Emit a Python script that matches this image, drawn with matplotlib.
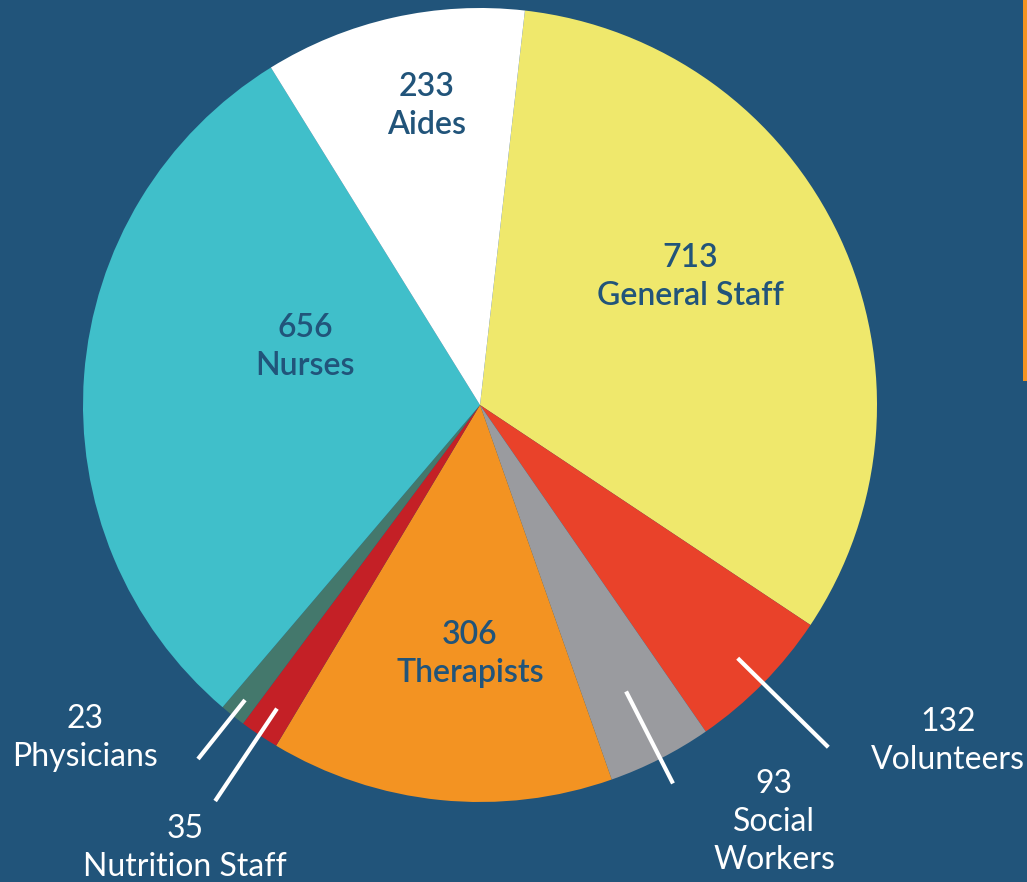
import numpy as np
import matplotlib.pyplot as plt
from matplotlib.patches import Rectangle

# staff counts, clockwise from the top
categories = ['General Staff', 'Volunteers', 'Social\nWorkers', 'Therapists',
              'Nutrition Staff', 'Physicians', 'Nurses', 'Aides']
counts = [713, 132, 93, 306, 35, 23, 656, 233]
colors = ['#efe86c', '#e9422a', '#9a9b9f', '#f39322',
          '#c42026', '#44786c', '#40bfca', '#ffffff']

bg = '#21547a'
W, H = 1027, 882
cx, cy, r = 480, H - 405, 397

plt.rcParams['font.family'] = ['Lato', 'DejaVu Sans']

fig = plt.figure(figsize=(W / 100, H / 100), dpi=100, facecolor=bg)
ax = fig.add_axes([0, 0, 1, 1])
ax.set_facecolor(bg)

wedges, _ = ax.pie(counts, colors=colors, startangle=83.5, counterclock=False,
                   center=(cx, cy), radius=r, frame=True,
                   wedgeprops=dict(linewidth=0))
ax.set_xlim(0, W)
ax.set_ylim(0, H)
ax.set_aspect('equal')
ax.axis('off')

# label placement (pixel coords from top-left), inside or outside
label_pos = {
    'General Staff': (690, 277, 'in'),
    'Volunteers': (948, 741, 'out'),
    'Social\nWorkers': (774, 822, 'out'),
    'Therapists': (470, 654, 'in'),
    'Nutrition Staff': (185, 848, 'out'),
    'Physicians': (85, 738, 'out'),
    'Nurses': (305, 347, 'in'),
    'Aides': (427, 106, 'in'),
}
# leader line radial extents for outside labels (inner, outer) as fraction of r
leaders = {
    'Volunteers': (0.91, 1.23),
    'Social\nWorkers': (0.81, 1.07),
    'Nutrition Staff': (0.92, 1.2),
    'Physicians': (0.95, 1.14),
}

for w, cat, n in zip(wedges, categories, counts):
    px, py, kind = label_pos[cat]
    txt = f'{n}\n{cat}'
    color = bg if kind == 'in' else 'white'
    ax.text(px, H - py, txt, ha='center', va='center', color=color,
            fontsize=23, linespacing=1.35,
            fontweight='semibold' if kind == 'in' else 'normal')
    if cat in leaders:
        mid = np.deg2rad((w.theta1 + w.theta2) / 2)
        r0, r1 = leaders[cat]
        ax.plot([cx + r * r0 * np.cos(mid), cx + r * r1 * np.cos(mid)],
                [cy + r * r0 * np.sin(mid), cy + r * r1 * np.sin(mid)],
                color='white', lw=3, solid_capstyle='butt')

# orange rule at the right edge
fig.add_artist(Rectangle((1023 / W, 1 - 381 / H), 4 / W, 381 / H,
                         transform=fig.transFigure, color='#f39322', lw=0))

fig.savefig('out.png', dpi=100, facecolor=bg)
